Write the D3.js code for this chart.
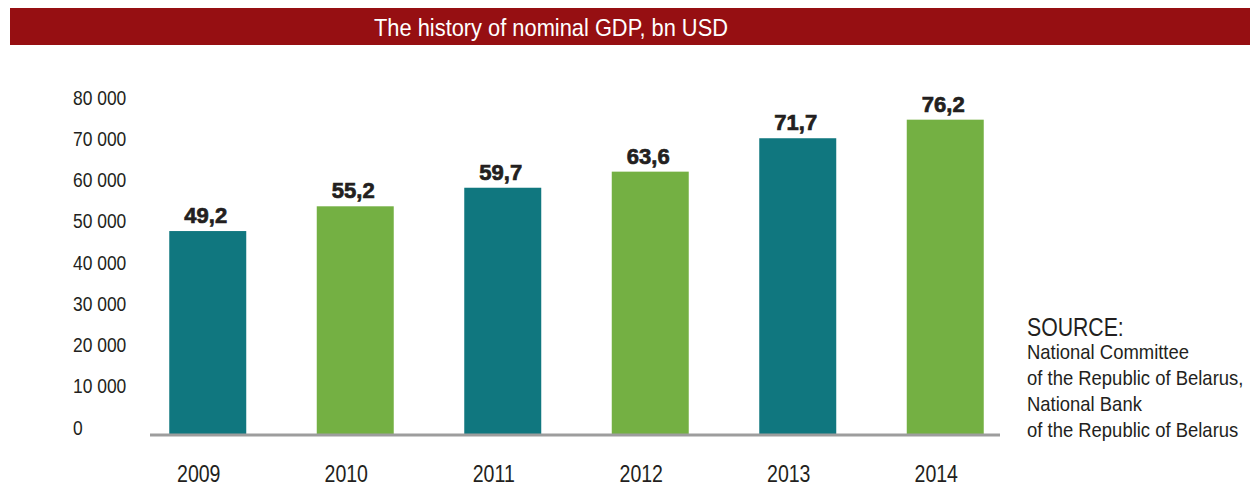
<!DOCTYPE html>
<html>
<head>
<meta charset="utf-8">
<script src="https://cdn.jsdelivr.net/npm/d3@7"></script>
<style>
  html, body { margin: 0; padding: 0; background: #fff; }
  svg { display: block; }
  text { font-family: "Liberation Sans", Arial, Helvetica, sans-serif; }
</style>
</head>
<body>
<svg id="chart" width="1250" height="487"></svg>
<script>
// Nominal GDP of Belarus, bn USD
const years = ["2009", "2010", "2011", "2012", "2013", "2014"];
const gdpBn = [49.2, 55.2, 59.7, 63.6, 71.7, 76.2];
const barColors = ["#10777f", "#74b043", "#10777f", "#74b043", "#10777f", "#74b043"];
const yTicks = [0, 10000, 20000, 30000, 40000, 50000, 60000, 70000, 80000];
const title = "The history of nominal GDP, bn USD";
const sourceHead = "SOURCE:";
const sourceLines = [
  "National Committee",
  "of the Republic of Belarus,",
  "National Bank",
  "of the Republic of Belarus"
];

const INK = "#231f20";
const NARROW = 0.85; // horizontal squeeze for the condensed typeface look

const svg = d3.select("#chart");

// Title banner
svg.append("rect")
  .attr("x", 10).attr("y", 8)
  .attr("width", 1240).attr("height", 37)
  .attr("fill", "#960f12");
svg.append("text")
  .attr("transform", "translate(551,36) scale(0.91,1)")
  .attr("text-anchor", "middle")
  .attr("fill", "#fff")
  .attr("font-size", 24)
  .text(title);

// Scales: axis in mn USD, bars from bn values converted to mn
const x = d3.scaleBand()
  .domain(years)
  .range([134, 1019])
  .paddingInner(0.478)
  .paddingOuter(0.239);

const y = d3.scaleLinear()
  .domain([0, 80000])
  .range([434, 104]);

// Y axis labels, left-aligned column, baseline on the tick value
const yAxis = d3.axisLeft(y)
  .tickValues(yTicks)
  .tickSize(0)
  .tickFormat(d => d3.format(",")(d).replace(/,/g, " "));

const yg = svg.append("g")
  .attr("transform", "translate(73,0)")
  .call(yAxis);
yg.select(".domain").remove();
yg.selectAll("text")
  .attr("text-anchor", "start")
  .attr("x", 0)
  .attr("dy", 0)
  .attr("transform", `scale(${NARROW},1)`)
  .attr("font-size", 20.5)
  .attr("fill", INK);

// Bars
svg.append("g")
  .selectAll("rect")
  .data(years)
  .join("rect")
  .attr("x", d => x(d))
  .attr("width", x.bandwidth())
  .attr("y", (d, i) => y(gdpBn[i] * 1000))
  .attr("height", (d, i) => y(0) - y(gdpBn[i] * 1000))
  .attr("fill", (d, i) => barColors[i]);

// Baseline
svg.append("line")
  .attr("x1", 150).attr("x2", 1000)
  .attr("y1", y(0) + 1).attr("y2", y(0) + 1)
  .attr("stroke", "#9d9d9d")
  .attr("stroke-width", 3);

// Value labels
svg.append("g")
  .selectAll("text")
  .data(years)
  .join("text")
  .attr("transform", (d, i) =>
    `translate(${x(d) + x.bandwidth() / 2 - 2},${y(gdpBn[i] * 1000) - 8})`)
  .attr("text-anchor", "middle")
  .attr("font-size", 22)
  .attr("font-weight", "bold")
  .attr("fill", INK)
  .attr("stroke", INK)
  .attr("stroke-width", 0.7)
  .text((d, i) => d3.format(".1f")(gdpBn[i]).replace(".", ","));

// X axis year labels
const xAxis = d3.axisBottom(x).tickSize(0);
const xg = svg.append("g")
  .attr("transform", "translate(-9,482)")
  .call(xAxis);
xg.select(".domain").remove();
xg.selectAll("text")
  .attr("y", 0)
  .attr("dy", 0)
  .attr("transform", `scale(${NARROW},1)`)
  .attr("font-size", 23)
  .attr("fill", INK);

// Source note
const src = svg.append("g").attr("fill", INK);
src.append("text")
  .attr("transform", `translate(1027,336) scale(${NARROW},1)`)
  .attr("font-size", 25)
  .text(sourceHead);
src.selectAll("text.line")
  .data(sourceLines)
  .join("text")
  .attr("class", "line")
  .attr("transform", (d, i) => `translate(1027,${359 + i * 26}) scale(0.9,1)`)
  .attr("font-size", 20.5)
  .text(d => d);
</script>
</body>
</html>
